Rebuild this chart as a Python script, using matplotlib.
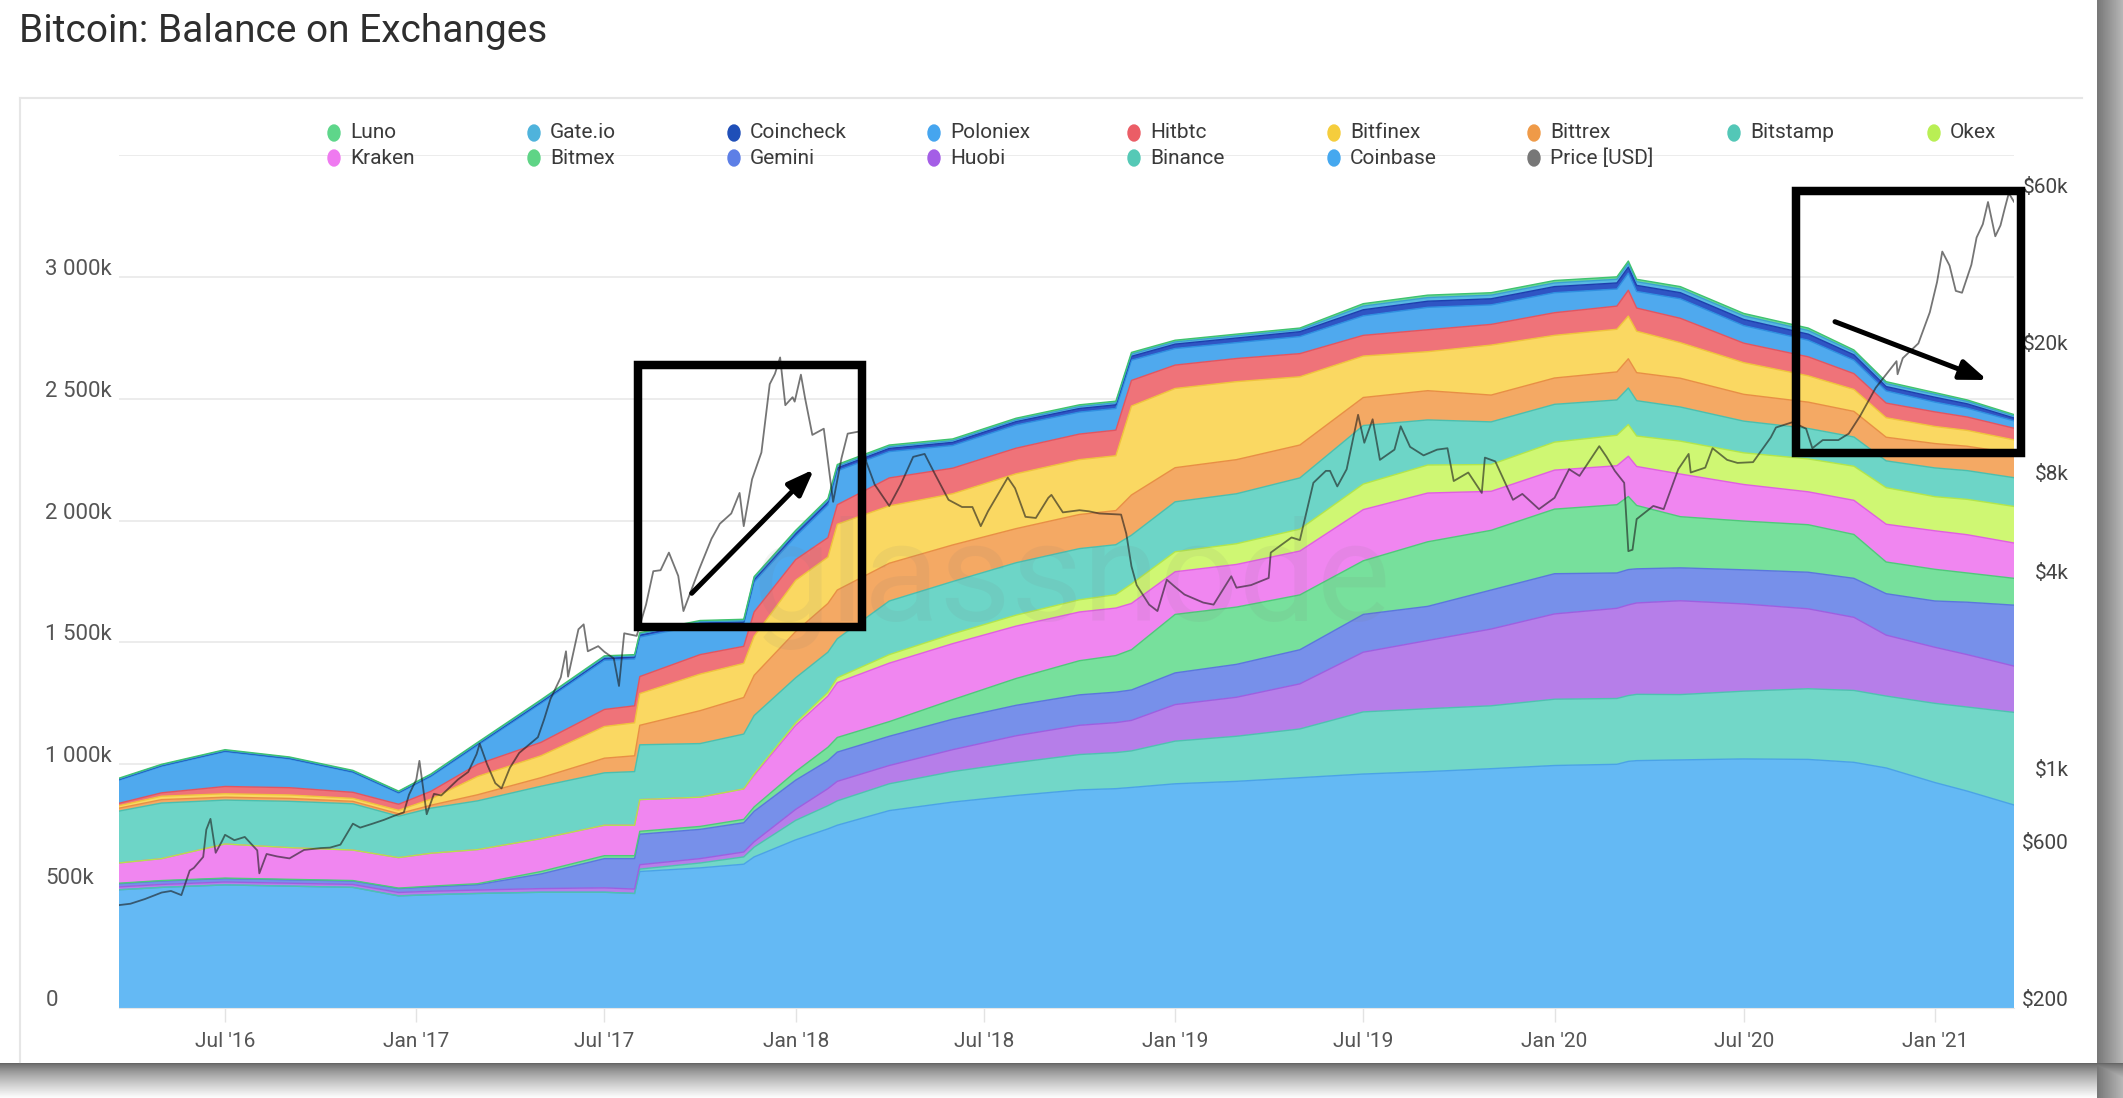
import numpy as np
import pandas as pd
import matplotlib
matplotlib.use("Agg")
import matplotlib.pyplot as plt
from matplotlib.lines import Line2D
from matplotlib.patches import Rectangle, Ellipse, FancyArrowPatch
from matplotlib.transforms import ScaledTranslation
from matplotlib.ticker import NullLocator, NullFormatter

plt.rcParams['font.family'] = ['Roboto', 'DejaVu Sans']

# ---------------- data (exchange balances in thousand BTC) ----------------
dates = pd.to_datetime([
    '2016-03-21', '2016-05-01', '2016-07-01', '2016-09-01', '2016-11-01', '2016-12-15',
    '2017-01-15', '2017-03-01', '2017-05-01', '2017-07-01', '2017-07-30', '2017-08-04',
    '2017-10-01', '2017-11-12', '2017-11-22', '2018-01-01', '2018-02-01', '2018-02-10',
    '2018-04-01', '2018-06-01', '2018-08-01', '2018-10-01', '2018-11-05', '2018-11-20',
    '2019-01-01', '2019-03-01', '2019-05-01', '2019-07-01', '2019-09-01', '2019-11-01',
    '2020-01-01', '2020-03-01', '2020-03-12', '2020-03-20', '2020-05-01', '2020-07-01',
    '2020-09-01', '2020-10-15', '2020-11-15', '2021-01-01', '2021-02-01', '2021-03-18'])

coinbase = [485, 495, 505, 500, 495, 460, 465, 470, 475, 475, 470, 560, 575, 590, 620, 690, 735, 750,
            810, 845, 872, 895, 900, 905, 920, 930, 945, 960, 970, 982, 995, 1000, 1012, 1015, 1018,
            1022, 1020, 1008, 985, 925, 890, 833]
binance = [0, 0, 0, 0, 0, 0, 0, 0, 0, 0, 0, 10, 20, 30, 40, 80, 95, 100, 110, 125, 135, 145, 148, 150,
           175, 185, 200, 255, 258, 258, 272, 270, 270, 272, 268, 278, 290, 295, 295, 325, 345, 380]
huobi = [12, 12, 12, 12, 12, 14, 14, 14, 15, 18, 18, 18, 18, 20, 22, 45, 70, 80, 75, 90, 110, 120, 123,
         125, 150, 160, 185, 245, 280, 315, 350, 370, 372, 375, 385, 358, 328, 300, 250, 230, 215, 190]
gemini = [13, 14, 14, 14, 14, 16, 18, 22, 60, 120, 125, 125, 120, 120, 125, 120, 115, 120, 120, 125, 125,
          125, 125, 125, 130, 135, 140, 155, 140, 160, 165, 145, 145, 140, 135, 140, 150, 160, 170, 190,
          215, 250]
bitmex = [2, 2, 2, 2, 2, 2, 3, 4, 10, 12, 12, 12, 12, 14, 18, 35, 55, 60, 60, 80, 110, 140, 150, 165,
          240, 235, 225, 220, 265, 245, 265, 280, 300, 260, 210, 200, 195, 180, 130, 130, 120, 110]
kraken = [83, 90, 140, 130, 125, 125, 135, 140, 135, 125, 125, 130, 120, 125, 130, 190, 210, 225, 240,
          230, 215, 200, 195, 190, 175, 175, 180, 210, 200, 160, 160, 160, 165, 160, 175, 150, 135, 140,
          155, 158, 157, 145]
okex = [0, 0, 0, 0, 0, 0, 0, 0, 0, 0, 0, 0, 0, 0, 5, 10, 15, 20, 35, 40, 45, 50, 55, 80, 82, 85, 90,
        105, 115, 110, 115, 125, 130, 125, 135, 130, 135, 140, 150, 140, 145, 150]
bitstamp = [213, 228, 180, 190, 190, 170, 185, 200, 215, 215, 220, 225, 220, 225, 240, 185, 165, 160,
            220, 215, 215, 210, 205, 200, 205, 205, 210, 240, 185, 175, 155, 145, 150, 145, 140, 130,
            125, 120, 110, 118, 118, 118]
bittrex = [12, 14, 12, 12, 10, 10, 12, 25, 35, 60, 65, 80, 135, 150, 165, 190, 200, 200, 155, 150, 140,
           140, 140, 165, 140, 140, 135, 115, 120, 110, 108, 115, 120, 115, 118, 110, 108, 105, 97, 100,
           100, 100]
bitfinex = [10, 14, 14, 14, 12, 14, 25, 75, 90, 130, 135, 130, 150, 140, 160, 210, 190, 270, 235, 210,
            225, 225, 225, 365, 325, 320, 280, 170, 160, 205, 175, 175, 175, 170, 146, 130, 108, 90, 80,
            70, 65, 55]
hitbtc = [10, 14, 30, 30, 25, 25, 32, 50, 55, 70, 70, 70, 80, 70, 100, 85, 80, 80, 115, 105, 105, 105,
          105, 105, 96, 95, 95, 85, 90, 85, 93, 95, 106, 95, 100, 80, 78, 65, 60, 60, 55, 48]
poloniex = [95, 109, 143, 118, 82, 46, 61, 78, 160, 202, 192, 162, 122, 91, 123, 95, 134, 139, 108, 93,
            95, 90, 89, 83, 68, 65, 70, 80, 92, 80, 82, 70, 70, 68, 80, 72, 68, 55, 50, 40, 36, 30]
coincheck = [3, 3, 3, 3, 3, 3, 4, 5, 6, 8, 8, 8, 8, 9, 10, 12, 12, 12, 13, 13, 14, 15, 15, 16, 18, 19,
             20, 25, 25, 25, 25, 25, 25, 25, 25, 25, 25, 22, 18, 20, 18, 12]
gateio = [2, 2, 2, 2, 2, 2, 2, 3, 4, 5, 5, 5, 5, 5, 6, 6, 7, 7, 7, 7, 7, 8, 8, 9, 9, 9, 8, 15, 15, 15,
          15, 15, 15, 15, 15, 15, 15, 12, 12, 12, 10, 8]
luno = [3, 3, 3, 3, 3, 3, 4, 4, 5, 5, 5, 5, 5, 6, 6, 7, 7, 7, 7, 7, 7, 7, 7, 7, 7, 7, 7, 10, 10, 10,
        10, 10, 10, 10, 10, 10, 10, 8, 8, 7, 6, 6]

# BTC price in USD (date, price)
price_points = [
    ('2016-03-21', 412), ('2016-04-01', 416), ('2016-04-15', 430), ('2016-05-01', 450),
    ('2016-05-10', 455), ('2016-05-20', 442), ('2016-05-28', 525), ('2016-06-01', 535),
    ('2016-06-10', 578), ('2016-06-13', 700), ('2016-06-17', 755), ('2016-06-22', 595),
    ('2016-06-28', 645), ('2016-07-01', 675), ('2016-07-10', 650), ('2016-07-20', 665),
    ('2016-08-01', 605), ('2016-08-03', 515), ('2016-08-10', 590), ('2016-08-20', 580),
    ('2016-09-01', 572), ('2016-09-15', 607), ('2016-10-01', 615), ('2016-10-10', 617),
    ('2016-10-20', 630), ('2016-11-01', 730), ('2016-11-08', 710), ('2016-11-20', 730),
    ('2016-12-01', 750), ('2016-12-10', 770), ('2016-12-20', 790), ('2016-12-25', 895),
    ('2017-01-01', 995), ('2017-01-04', 1135), ('2017-01-11', 780), ('2017-01-18', 900),
    ('2017-01-25', 890), ('2017-02-10', 995), ('2017-02-20', 1050), ('2017-02-28', 1190),
    ('2017-03-03', 1280), ('2017-03-10', 1110), ('2017-03-18', 970), ('2017-03-24', 935),
    ('2017-04-01', 1080), ('2017-04-10', 1200), ('2017-04-28', 1340), ('2017-05-04', 1520),
    ('2017-05-10', 1750), ('2017-05-20', 2040), ('2017-05-25', 2450), ('2017-05-27', 2050),
    ('2017-06-06', 2860), ('2017-06-11', 2960), ('2017-06-15', 2450), ('2017-06-25', 2540),
    ('2017-07-01', 2440), ('2017-07-10', 2330), ('2017-07-15', 1920), ('2017-07-20', 2780),
    ('2017-08-01', 2730), ('2017-08-10', 3400), ('2017-08-17', 4300), ('2017-08-24', 4330),
    ('2017-09-01', 4900), ('2017-09-10', 4160), ('2017-09-15', 3250), ('2017-09-30', 4350),
    ('2017-10-12', 5400), ('2017-10-20', 6000), ('2017-10-31', 6450), ('2017-11-08', 7450),
    ('2017-11-12', 5900), ('2017-11-20', 8200), ('2017-11-29', 9900), ('2017-12-07', 16000),
    ('2017-12-12', 17200), ('2017-12-17', 19300), ('2017-12-22', 13800), ('2017-12-29', 14600),
    ('2017-12-31', 14150), ('2018-01-06', 17100), ('2018-01-10', 14500), ('2018-01-17', 11200),
    ('2018-01-28', 11700), ('2018-02-06', 7000), ('2018-02-14', 9500), ('2018-02-20', 11300),
    ('2018-03-05', 11500), ('2018-03-10', 9250), ('2018-03-18', 7900), ('2018-04-01', 6800),
    ('2018-04-12', 7900), ('2018-04-24', 9600), ('2018-05-05', 9800), ('2018-05-15', 8500),
    ('2018-05-28', 7100), ('2018-06-10', 6750), ('2018-06-20', 6750), ('2018-06-28', 5900),
    ('2018-07-05', 6550), ('2018-07-24', 8300), ('2018-07-31', 7700), ('2018-08-10', 6300),
    ('2018-08-20', 6250), ('2018-09-01', 7200), ('2018-09-04', 7350), ('2018-09-15', 6500),
    ('2018-10-01', 6600), ('2018-10-10', 6550), ('2018-10-20', 6450), ('2018-11-10', 6400),
    ('2018-11-15', 5600), ('2018-11-20', 4450), ('2018-11-25', 3900), ('2018-12-07', 3400),
    ('2018-12-15', 3250), ('2018-12-24', 4050), ('2019-01-01', 3850), ('2019-01-10', 3650),
    ('2019-01-28', 3450), ('2019-02-07', 3400), ('2019-02-24', 4150), ('2019-03-01', 3830),
    ('2019-03-15', 3900), ('2019-04-01', 4100), ('2019-04-03', 4900), ('2019-04-23', 5450),
    ('2019-05-01', 5350), ('2019-05-14', 8000), ('2019-05-26', 8700), ('2019-05-30', 8700),
    ('2019-06-06', 7800), ('2019-06-15', 8800), ('2019-06-26', 12900), ('2019-07-02', 10600),
    ('2019-07-10', 12500), ('2019-07-17', 9400), ('2019-07-31', 10100), ('2019-08-06', 11900),
    ('2019-08-15', 10300), ('2019-08-28', 9700), ('2019-09-10', 10100), ('2019-09-20', 10200),
    ('2019-09-26', 8100), ('2019-10-10', 8600), ('2019-10-23', 7450), ('2019-10-26', 9550),
    ('2019-11-05', 9300), ('2019-11-22', 7100), ('2019-12-01', 7400), ('2019-12-17', 6650),
    ('2020-01-01', 7200), ('2020-01-15', 8800), ('2020-01-25', 8400), ('2020-02-13', 10350),
    ('2020-02-20', 9600), ('2020-02-28', 8700), ('2020-03-08', 8000), ('2020-03-12', 4950),
    ('2020-03-16', 5000), ('2020-03-20', 6200), ('2020-04-05', 6800), ('2020-04-15', 6650),
    ('2020-04-29', 8800), ('2020-05-09', 9800), ('2020-05-11', 8600), ('2020-05-25', 8900),
    ('2020-06-01', 10200), ('2020-06-15', 9400), ('2020-06-25', 9200), ('2020-07-10', 9250),
    ('2020-07-27', 11000), ('2020-08-01', 11800), ('2020-08-17', 12250), ('2020-08-30', 11700),
    ('2020-09-05', 10200), ('2020-09-15', 10800), ('2020-09-30', 10800), ('2020-10-10', 11300),
    ('2020-10-21', 12800), ('2020-11-05', 15600), ('2020-11-25', 18800), ('2020-11-26', 17150),
    ('2020-12-01', 19200), ('2020-12-16', 21300), ('2020-12-27', 26500), ('2021-01-03', 32800),
    ('2021-01-08', 40600), ('2021-01-15', 36800), ('2021-01-21', 30800), ('2021-01-27', 30400),
    ('2021-02-05', 37000), ('2021-02-10', 44800), ('2021-02-16', 49200), ('2021-02-21', 57500),
    ('2021-02-28', 45200), ('2021-03-05', 48800), ('2021-03-09', 54800), ('2021-03-13', 61200),
    ('2021-03-18', 57600)]
price_dates = pd.to_datetime([d for d, p in price_points])
price_usd = [p for d, p in price_points]

left_ticks = [0, 500, 1000, 1500, 2000, 2500, 3000, 3500]
left_labels = ['0', '500k', '1 000k', '1 500k', '2 000k', '2 500k', '3 000k', '']
right_ticks = [200, 600, 1000, 4000, 8000, 20000, 60000]
right_labels = ['$200', '$600', '$1k', '$4k', '$8k', '$20k', '$60k']
x_ticks = pd.to_datetime(['2016-07-01', '2017-01-01', '2017-07-01', '2018-01-01', '2018-07-01',
                          '2019-01-01', '2019-07-01', '2020-01-01', '2020-07-01', '2021-01-01'])
x_labels = ["Jul '16", "Jan '17", "Jul '17", "Jan '18", "Jul '18",
            "Jan '19", "Jul '19", "Jan '20", "Jul '20", "Jan '21"]

# stacking order, bottom to top
layers = [coinbase, binance, huobi, gemini, bitmex, kraken, okex, bitstamp,
          bittrex, bitfinex, hitbtc, poloniex, coincheck, gateio, luno]
fills = ['#64b9f4', '#72d7c8', '#b67ee9', '#7790ea', '#77e09c', '#f086f0', '#cff773', '#6dd5c7',
         '#f4a964', '#fad862', '#ef7379', '#4fa9ee', '#2f55c4', '#58b8e3', '#6bd895']
edges = ['#4aa3e6', '#4fc1b0', '#9d5fe0', '#5a77dc', '#4fc97a', '#e060e0', '#b3e64a', '#4bbfae',
         '#e88f44', '#efc43c', '#e25560', '#2f8fe0', '#1d3fae', '#3aa1d3', '#3fc270']

legend_names = ['Luno', 'Gate.io', 'Coincheck', 'Poloniex', 'Hitbtc', 'Bitfinex', 'Bittrex',
                'Bitstamp', 'Okex', 'Kraken', 'Bitmex', 'Gemini', 'Huobi', 'Binance', 'Coinbase',
                'Price [USD]']
legend_colors = ['#5ed68a', '#4fb3dc', '#1f4fb8', '#45a5ef', '#eb5d66', '#f5cd3c', '#ef9a48',
                 '#53c7b7', '#b9ef54', '#ef7af0', '#5fd486', '#5d7fe6', '#a45ee6', '#55c9b6',
                 '#45a8ef', '#777777']

# ---------------- figure ----------------
W, H = 2123, 1098


def fx(px):
    return px / W


def fy(py):
    return 1 - py / H


fig = plt.figure(figsize=(W / 100, H / 100), dpi=100, facecolor='white')

# screenshot card with drop shadow
bg = fig.add_axes([0, 0, 1, 1], zorder=-5)
xx = np.arange(W)[None, :]
yy = np.arange(H)[:, None]
dr = (xx - 2097) / 26.0
right = np.where(dr >= 0, 0.47 + 0.25 * np.clip(dr, 0, 1), 1.0)
db = (yy - 1063) / 35.0
bottom = np.where(db >= 0, 0.40 + 0.60 * np.clip(db, 0, 1) ** 0.75, 1.0)
bg.imshow(np.minimum(right, bottom), cmap='gray', vmin=0, vmax=1, aspect='auto',
          interpolation='bilinear')
bg.axis('off')

fig.add_artist(Line2D([fx(20), fx(2082)], [fy(98), fy(98)], color='#e6e6e6', lw=1.5,
                      transform=fig.transFigure))
fig.add_artist(Line2D([fx(20), fx(20)], [fy(98), fy(1062)], color='#e6e6e6', lw=1.5,
                      transform=fig.transFigure))

fig.text(fx(19), fy(31), 'Bitcoin: Balance on Exchanges', fontsize=28, color='#2e2e2e',
         ha='left', va='center')

ax = fig.add_axes([fx(119), fy(1008), fx(2014) - fx(119), fy(155) - fy(1008)])
ax.set_facecolor('none')
ax.stackplot(dates, np.vstack(layers), colors=fills, linewidth=0, zorder=2)
cum = np.cumsum(np.vstack(layers), axis=0)
for row, ec in zip(cum, edges):
    ax.plot(dates, row, color=ec, lw=1.0, zorder=3)

ax.set_xlim(dates[0], dates[-1])
ax.set_ylim(0, 3500)
ax.set_axisbelow(True)
ax.yaxis.grid(True, color='#ebebeb', lw=1.3)
for s in ['left', 'right', 'top']:
    ax.spines[s].set_visible(False)
ax.spines['bottom'].set_color('#e6e6e6')

ax.set_xticks(x_ticks)
ax.set_xticklabels(x_labels)
ax.tick_params(axis='x', length=10, width=1, color='#e3e3e3', pad=7, labelsize=15,
               labelcolor='#555555')
ax.set_yticks(left_ticks)
ax.set_yticklabels(left_labels)
ax.tick_params(axis='y', length=0, pad=53, labelsize=16, labelcolor='#555555')
up = ScaledTranslation(0, 0.10, fig.dpi_scale_trans)
for lab in ax.get_yticklabels():
    lab.set_horizontalalignment('left')
    lab.set_transform(lab.get_transform() + up)

# price on log axis
ax2 = ax.twinx()
ax2.set_yscale('log')
ax2.plot(price_dates, price_usd, color='#1a1a1a', alpha=0.6, lw=1.3, zorder=4)
ax2.set_ylim(200, 80000)
ax2.set_yticks(right_ticks)
ax2.set_yticklabels(right_labels)
ax2.yaxis.set_minor_locator(NullLocator())
ax2.yaxis.set_minor_formatter(NullFormatter())
ax2.tick_params(axis='y', length=0, pad=39.5, labelsize=15, labelcolor='#444444')
for lab in ax2.get_yticklabels():
    lab.set_horizontalalignment('right')
    lab.set_transform(lab.get_transform() + up)
for s in ax2.spines.values():
    s.set_visible(False)

# legend, two rows laid out on a fixed grid
for i, (name, col) in enumerate(zip(legend_names, legend_colors)):
    x = 334 + 200 * (i % 9)
    y = 133 + 25 * (i // 9)
    fig.add_artist(Ellipse((fx(x), fy(y)), 12 / W, 16 / H, color=col,
                           transform=fig.transFigure))
    fig.text(fx(x + 16), fy(y), name, fontsize=15, color='#3a3a3a', ha='left', va='center')

# watermark
fig.text(fx(1072), fy(583), 'glassnode', fontsize=100, color='#7a7a7a', alpha=0.09,
         ha='center', va='center', zorder=5)

# annotation boxes and arrows
for (x0, y0, x1, y1) in [(637.5, 364.5, 861.5, 626.7), (1796, 191, 2020.5, 453)]:
    fig.add_artist(Rectangle((fx(x0), fy(y1)), fx(x1) - fx(x0), fy(y0) - fy(y1), fill=False,
                             lw=6.1, ec='black', joinstyle='miter', transform=fig.transFigure,
                             zorder=20))
for (x0, y0, x1, y1) in [(691.7, 593.3, 814, 469.3), (1835, 321.7, 1987.3, 380)]:
    fig.add_artist(FancyArrowPatch((fx(x0), fy(y0)), (fx(x1), fy(y1)),
                                   arrowstyle='-|>,head_length=1.6,head_width=0.6',
                                   mutation_scale=10, lw=3.6, color='black', shrinkA=0,
                                   shrinkB=0, transform=fig.transFigure, zorder=21))

fig.savefig('out.png', dpi=100)
